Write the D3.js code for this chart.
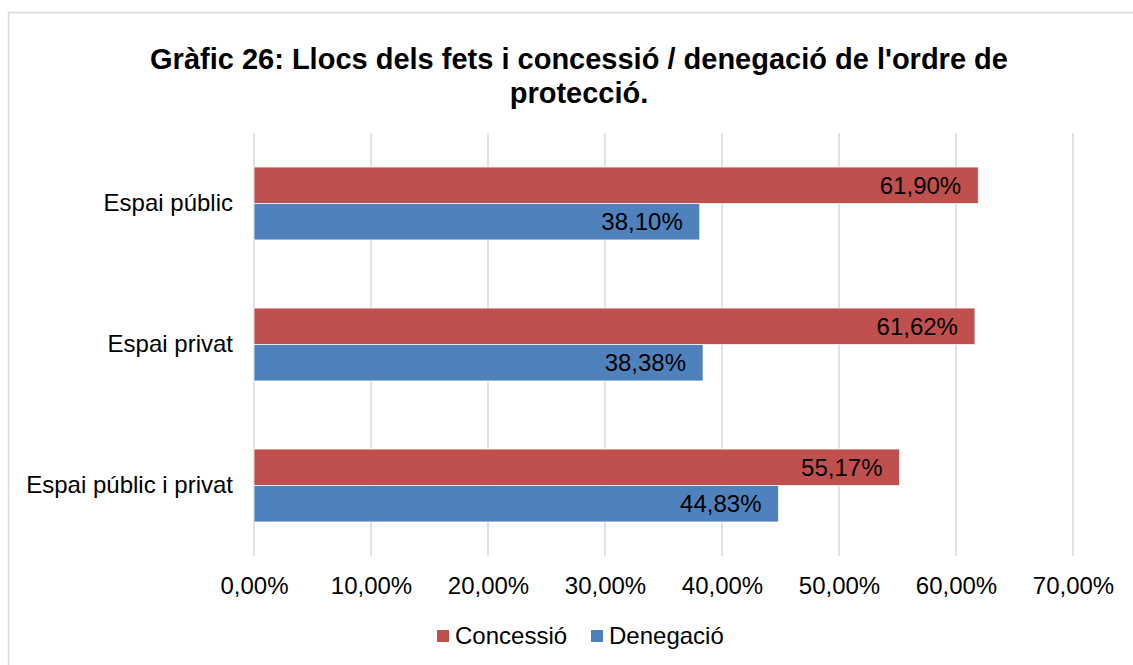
<!DOCTYPE html>
<html>
<head>
<meta charset="utf-8">
<script src="https://cdn.jsdelivr.net/npm/d3@7"></script>
<style>
  body { margin: 0; background: #fff; }
  svg { font-family: "Liberation Sans", Arial, sans-serif; }
</style>
</head>
<body>
<svg width="1133" height="665"></svg>
<script>
// dati
var categorie = ["Espai públic", "Espai privat", "Espai públic i privat"];
var serie = ["Concessió", "Denegació"];
var concessio = [61.90, 61.62, 55.17];
var denegacio = [38.10, 38.38, 44.83];
var tickValori = [0, 10, 20, 30, 40, 50, 60, 70];
var colori = ["#c0504d", "#4f81bd"];

var svg = d3.select("svg");
var larghezza = 1133, altezza = 665;

// cornice
svg.append("rect")
  .attr("x", 8.5).attr("y", 12.5)
  .attr("width", 1140).attr("height", 700)
  .attr("fill", "#fff")
  .attr("stroke", "#d9d9d9").attr("stroke-width", 1.5);

// titolo
var titolo = svg.append("text")
  .attr("text-anchor", "middle")
  .style("font-weight", "bold").style("font-size", "29px")
  .attr("fill", "#000");
titolo.append("tspan").attr("x", 579).attr("y", 69).text("Gràfic 26: Llocs dels fets i concessió / denegació de l'ordre de");
titolo.append("tspan").attr("x", 579).attr("y", 103).text("protecció.");

var margine = {left: 254, right: 1073, top: 133, bottom: 556};

var x = d3.scaleLinear().domain([0, 70]).range([margine.left, margine.right]);
var y = d3.scaleBand().domain(categorie).range([margine.top, margine.bottom]).paddingInner(0.483).paddingOuter(0.2415);
var ySub = d3.scaleBand().domain(serie).range([0, y.bandwidth()]);

// griglia
svg.append("g").selectAll("line")
  .data(tickValori)
  .enter().append("line")
  .attr("x1", function(d){ return x(d); })
  .attr("x2", function(d){ return x(d); })
  .attr("y1", margine.top).attr("y2", margine.bottom)
  .attr("stroke", "#d9d9d9").attr("stroke-width", 1.5);

// asse x
var asseX = svg.append("g")
  .attr("transform", "translate(0," + margine.bottom + ")")
  .call(d3.axisBottom(x).tickValues(tickValori).tickSize(0).tickPadding(21)
    .tickFormat(function(d){ return d.toFixed(2).replace(".", ",") + "%"; }));
asseX.select(".domain").remove();
asseX.selectAll("text").style("font-size", "24px").attr("fill", "#000")
  .style("font-family", "'Liberation Sans', Arial, sans-serif");

// asse y
var asseY = svg.append("g")
  .attr("transform", "translate(" + (margine.left - 21) + ",0)")
  .call(d3.axisLeft(y).tickSize(0).tickPadding(0));
asseY.select(".domain").remove();
asseY.selectAll("text").style("font-size", "24px").attr("fill", "#000")
  .style("font-family", "'Liberation Sans', Arial, sans-serif");

// barre
var righe = categorie.map(function(c, i){
  return {cat: c, valori: [concessio[i], denegacio[i]]};
});
var gruppi = svg.append("g").selectAll("g")
  .data(righe)
  .enter().append("g")
  .attr("transform", function(d){ return "translate(0," + y(d.cat) + ")"; });

gruppi.selectAll("rect")
  .data(function(d){ return d.valori.map(function(v, j){ return {s: serie[j], v: v, j: j}; }); })
  .enter().append("rect")
  .attr("x", x(0))
  .attr("y", function(d){ return ySub(d.s); })
  .attr("width", function(d){ return x(d.v) - x(0); })
  .attr("height", ySub.bandwidth())
  .attr("fill", function(d){ return colori[d.j]; })
  .attr("stroke", "#fff").attr("stroke-width", 0.7);

gruppi.selectAll("text")
  .data(function(d){ return d.valori.map(function(v, j){ return {s: serie[j], v: v, j: j}; }); })
  .enter().append("text")
  .attr("x", function(d){ return x(d.v) - 17; })
  .attr("y", function(d){ return ySub(d.s) + ySub.bandwidth() / 2; })
  .attr("dy", "0.36em")
  .attr("text-anchor", "end")
  .style("font-size", "24px")
  .attr("fill", "#000")
  .text(function(d){ return d.v.toFixed(2).replace(".", ",") + "%"; });

// legenda
var legenda = svg.append("g");
var posLeg = [437, 591];
serie.forEach(function(s, i){
  legenda.append("rect")
    .attr("x", posLeg[i]).attr("y", 630)
    .attr("width", 12).attr("height", 12)
    .attr("fill", colori[i]);
  legenda.append("text")
    .attr("x", posLeg[i] + 18).attr("y", 644)
    .style("font-size", "24px").attr("fill", "#000")
    .text(s);
});
</script>
</body>
</html>
